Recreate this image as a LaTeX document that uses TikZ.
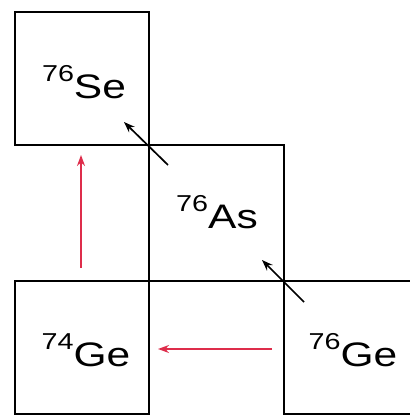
\documentclass[tikz,border=0pt]{standalone}
\usepackage{fontspec}
\setmainfont{Liberation Sans}
\usetikzlibrary{arrows.meta,calc}
\definecolor{decay}{RGB}{222,45,75}
\tikzset{
  nuc/.style={draw=black, line width=2pt, inner sep=0pt, anchor=north west},
  lab/.style={font=\fontsize{34}{34}\selectfont, inner sep=0pt, anchor=base},
  betaarr/.style={-{Stealth[length=11pt,width=8pt]}, line width=1.7pt, black},
  redarr/.style={-{Stealth[length=11pt,width=8pt]}, line width=1.7pt, decay}
}
\newcommand{\iso}[2]{\scalebox{1.25}[1]{\raisebox{17pt}{\fontsize{23}{23}\selectfont #1}#2}}
\begin{document}
\begin{tikzpicture}[x=1pt,y=-1pt]
\useasboundingbox (0,0) rectangle (410,416);
\clip (0,0) rectangle (410,416);
\node[nuc, minimum width=134pt, minimum height=133pt] (Se) at (14,11) {};
\node[nuc, minimum width=135pt, minimum height=136pt] (As) at (148,144) {};
\node[nuc, minimum width=134pt, minimum height=133pt] (Ge74) at (14,280) {};
\node[nuc, minimum width=200pt, minimum height=133pt] (Ge76) at (283,280) {};
\node[lab] (tSe) at (84,98) {\iso{76}{Se}};
\node[lab] (tAs) at (217,228) {\iso{76}{As}};
\node[lab] (tGe74) at (86,366) {\iso{74}{Ge}};
\node[lab] (tGe76) at (353,366) {\iso{76}{Ge}};
\draw[betaarr] ($(As.north west)+(20,21)$) -- ($(As.north west)+(-24,-22)$);
\draw[betaarr] ($(As.south east)+(19,20)$) -- ($(As.south east)+(-23,-22)$);
\draw[redarr] ($(Ge74.north)+(-1,-12)$) -- ($(Se.south)+(-1,9)$);
\draw[redarr] ($(Ge76.west)+(-11,1.5)$) -- ($(Ge74.east)+(8,1.5)$);
\end{tikzpicture}
\end{document}
